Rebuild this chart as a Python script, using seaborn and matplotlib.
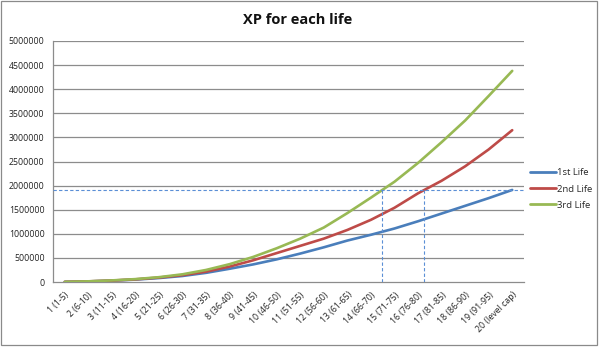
import numpy as np
import pandas as pd
import matplotlib
matplotlib.use("Agg")
import matplotlib.pyplot as plt
from matplotlib.patches import Rectangle
import seaborn as sns

# Level brackets (one per life stage)
levels = ["1 (1-5)", "2 (6-10)", "3 (11-15)", "4 (16-20)", "5 (21-25)",
          "6 (26-30)", "7 (31-35)", "8 (36-40)", "9 (41-45)", "10 (46-50)",
          "11 (51-55)", "12 (56-60)", "13 (61-65)", "14 (66-70)", "15 (71-75)",
          "16 (76-80)", "17 (81-85)", "18 (86-90)", "19 (91-95)", "20 (level cap)"]

# Cumulative XP needed per life
life1 = [3e3, 12e3, 28e3, 50e3, 82e3, 125e3, 190e3, 275e3, 365e3, 470e3,
         590e3, 720e3, 860e3, 980e3, 1110e3, 1260e3, 1420e3, 1580e3, 1740e3, 1910e3]
life2 = [3e3, 13e3, 30e3, 55e3, 92e3, 142e3, 215e3, 320e3, 450e3, 600e3,
         750e3, 900e3, 1080e3, 1290e3, 1540e3, 1840e3, 2100e3, 2400e3, 2750e3, 3150e3]
life3 = [3e3, 14e3, 33e3, 60e3, 100e3, 160e3, 250e3, 370e3, 520e3, 700e3,
         900e3, 1130e3, 1430e3, 1750e3, 2080e3, 2470e3, 2900e3, 3350e3, 3860e3, 4380e3]
series_names = ["1st Life", "2nd Life", "3rd Life"]
colors = ["#4A7EBB", "#BE4B48", "#98B954"]

idx = np.arange(len(levels))
df = pd.DataFrame({
    "pos": np.concatenate([idx, idx, idx]),
    "xp": np.concatenate([life1, life2, life3]),
    "life": np.repeat(series_names, len(levels)),
})

sns.set_style("white")
plt.rcParams["font.family"] = ["Open Sans", "DejaVu Sans"]

fig = plt.figure(figsize=(6.0, 3.48), dpi=100)
ax = fig.add_axes([53 / 600, 1 - 282 / 348, (524 - 53) / 600, (282 - 41) / 348])

grid_c = "#8c8c8c"
ax.set_ylim(0, 5_000_000)
ax.set_xlim(-0.5, len(levels) - 0.5)
yt = np.arange(0, 5_000_001, 500_000)
ax.set_yticks(yt)
ax.set_yticklabels([f"{int(v)}" for v in yt], fontsize=6.3, color="#222222")
for v in yt[1:]:
    ax.axhline(v, color=grid_c, lw=0.9, zorder=0)

sns.lineplot(data=df, x="pos", y="xp", hue="life", palette=colors,
             hue_order=series_names, lw=1.9, ax=ax, legend=True, zorder=3)

# Reference lines: final 1st-life XP, and where later lives reach it
target = life1[-1]
ax.plot([-0.5, len(levels) - 0.5], [target, target], color="#5B8FD6",
        lw=0.8, ls=(0, (3, 2)), zorder=4)
for vals in (life3, life2):
    xc = float(np.interp(target, vals, idx))
    ax.plot([xc, xc], [0, target], color="#5B8FD6", lw=0.8, ls=(0, (3, 2)), zorder=4)

# Category axis: labels at centers, tick marks between categories
ax.set_xticks(idx)
ax.set_xticklabels(levels, rotation=45, ha="right", rotation_mode="anchor",
                   fontsize=6.3, color="#222222")
ax.set_xticks(np.arange(-0.5, len(levels)), minor=True)
ax.tick_params(axis="x", which="major", length=0, pad=6)
ax.tick_params(axis="x", which="minor", length=4, color=grid_c, width=0.9, direction="out")
ax.tick_params(axis="y", length=4, color=grid_c, width=0.9, direction="out", pad=2)
ax.set_xlabel("")
ax.set_ylabel("")
for s in ("top", "right"):
    ax.spines[s].set_visible(False)
for s in ("left", "bottom"):
    ax.spines[s].set_color(grid_c)
    ax.spines[s].set_linewidth(0.9)

leg = ax.legend(loc="center left", bbox_to_anchor=(530 / 600, 1 - 189 / 348),
                bbox_transform=fig.transFigure, frameon=False, fontsize=6.8,
                handlelength=2.8, handletextpad=0.1, labelspacing=0.75,
                borderaxespad=0, borderpad=0)
for h in leg.get_lines():
    h.set_linewidth(2.0)

fig.text(298 / 600, 1 - 20 / 348, "XP for each life", ha="center", va="center",
         fontsize=10.5, fontweight="bold", color="#111111")

fig.patches.append(Rectangle((1 / 600, 3 / 348), 596 / 600, 344 / 348,
                             transform=fig.transFigure, fill=False,
                             edgecolor="#8a8a8a", lw=0.9))

fig.savefig("out.png", dpi=100, facecolor="white")
